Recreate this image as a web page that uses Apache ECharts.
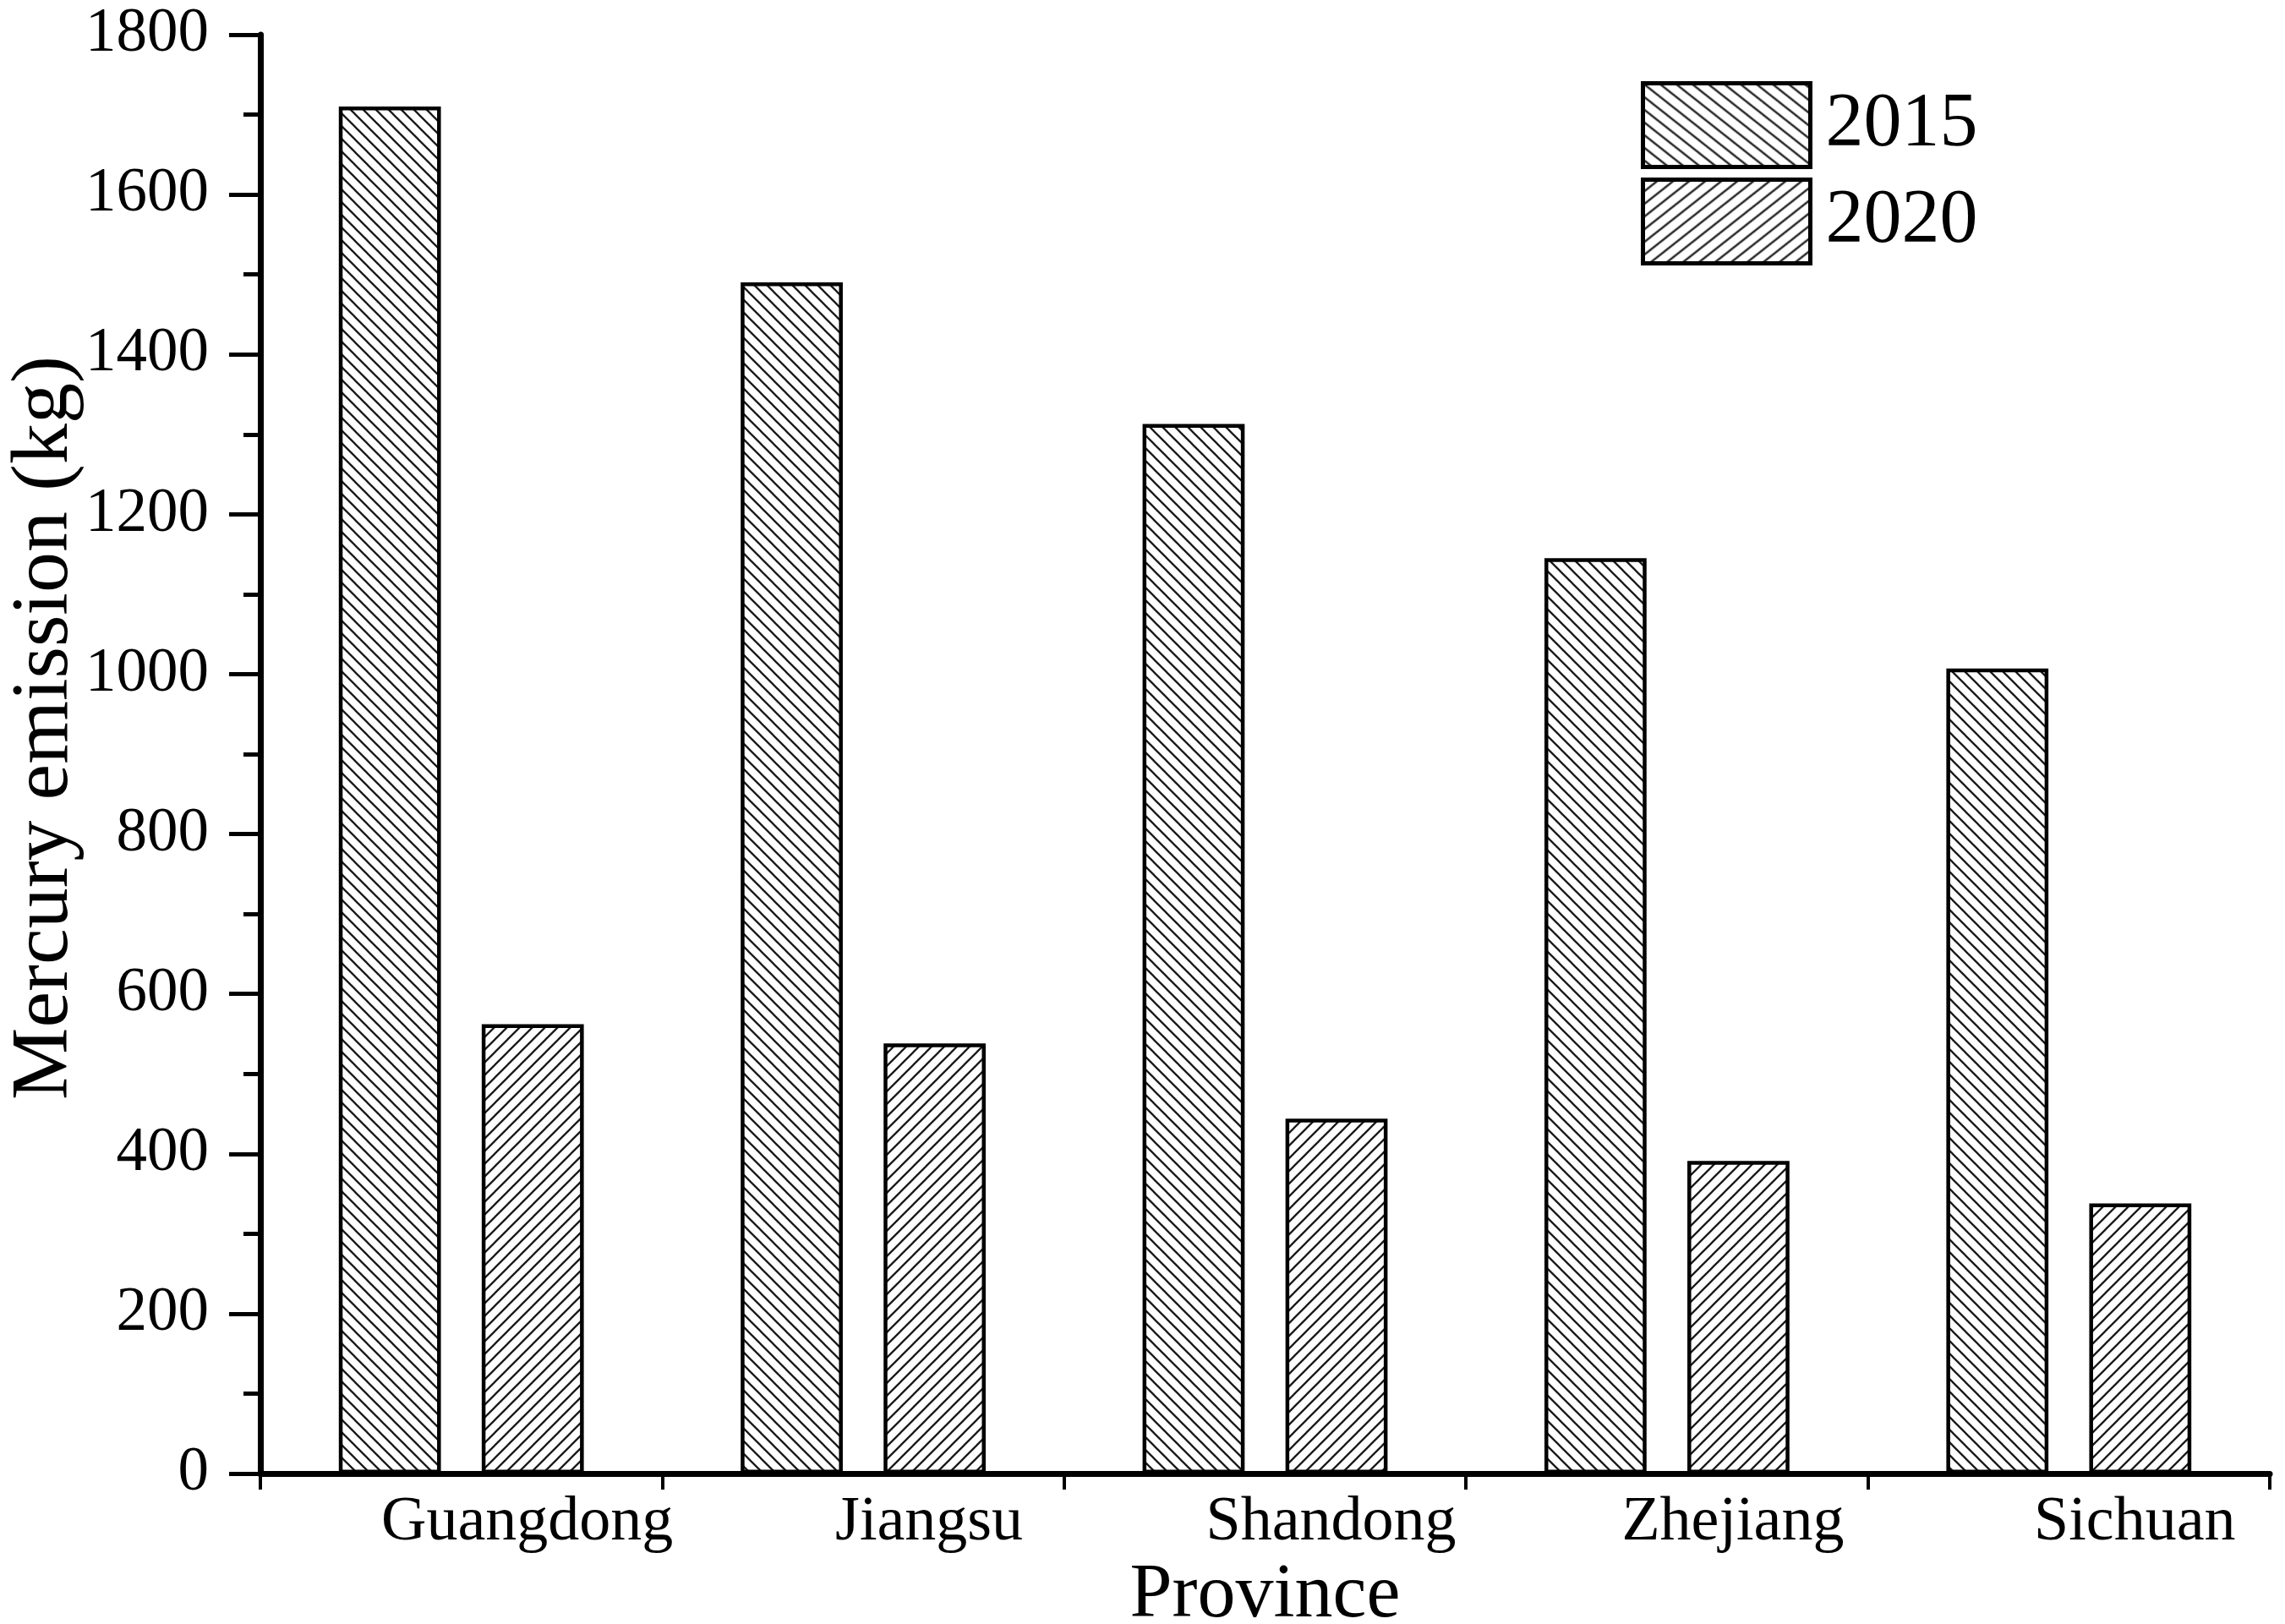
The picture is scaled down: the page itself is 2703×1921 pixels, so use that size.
<!DOCTYPE html>
<html>
<head>
<meta charset="utf-8">
<script src="https://cdn.jsdelivr.net/npm/echarts@6/dist/echarts.min.js"></script>
<style>
  html, body { margin: 0; padding: 0; background: #fff; }
  #chart { width: 2703px; height: 1921px; }
</style>
</head>
<body>
<div id="chart"></div>
<script>
const provinces = ['Guangdong', 'Jiangsu', 'Shandong', 'Zhejiang', 'Sichuan'];
const values2015 = [1710, 1490, 1313, 1145, 1007];
const values2020 = [562, 538, 444, 391, 338];
const seriesNames = ['2015', '2020'];
const yTicks = { min: 0, max: 1800, interval: 200 };

const FONT = "'Liberation Serif', 'Times New Roman', serif";

function hatch(w, h, dir, lw, color) {
  const c = document.createElement('canvas');
  c.width = w; c.height = h;
  const ctx = c.getContext('2d');
  ctx.fillStyle = '#fff';
  ctx.fillRect(0, 0, w, h);
  ctx.strokeStyle = color;
  ctx.lineWidth = lw;
  ctx.lineCap = 'square';
  for (let k = -1; k <= 1; k++) {
    ctx.beginPath();
    if (dir === 'back') { ctx.moveTo(k * w, 0); ctx.lineTo(k * w + w, h); }
    else { ctx.moveTo(k * w, h); ctx.lineTo(k * w + w, 0); }
    ctx.stroke();
  }
  return { image: c, repeat: 'repeat' };
}

const barPat2015 = hatch(15, 15, 'back', 2.3, '#1a1a1a');
const barPat2020 = hatch(15, 15, 'fwd', 2.3, '#1a1a1a');
const legPat2015 = hatch(19, 15, 'back', 2.3, '#1a1a1a');
const legPat2020 = hatch(19, 15, 'fwd', 2.3, '#1a1a1a');

const chart = echarts.init(document.getElementById('chart'));
chart.setOption({
  animation: false,
  backgroundColor: '#fff',
  grid: { left: 308, right: 18, top: 41, bottom: 178, containLabel: false, outerBoundsMode: 'none' },
  legend: {
    orient: 'vertical',
    left: 1936,
    top: 91,
    itemWidth: 198,
    itemHeight: 99,
    itemGap: 10,
    icon: 'rect',
    selectedMode: false,
    textStyle: { fontFamily: FONT, fontSize: 90, color: '#000', padding: [0, 0, 0, 13] },
    data: [
      { name: seriesNames[0], itemStyle: { color: legPat2015, borderColor: '#000', borderWidth: 5 } },
      { name: seriesNames[1], itemStyle: { color: legPat2020, borderColor: '#000', borderWidth: 5 } }
    ]
  },
  xAxis: {
    type: 'category',
    data: provinces,
    boundaryGap: true,
    name: 'Province',
    nameLocation: 'middle',
    nameGap: 100,
    nameMoveOverlap: false,
    nameTextStyle: { fontFamily: FONT, fontSize: 90, color: '#000' },
    axisLine: { show: true, lineStyle: { color: '#000', width: 7 } },
    axisTick: { show: true, alignWithLabel: false, length: 19, lineStyle: { color: '#000', width: 4 } },
    axisLabel: {
      fontFamily: FONT, fontSize: 74, color: '#000', margin: 22,
      padding: [0, 0, 0, 156], interval: 0
    },
    splitLine: { show: false }
  },
  yAxis: {
    type: 'value',
    min: yTicks.min,
    max: yTicks.max,
    interval: yTicks.interval,
    name: 'Mercury emission (kg)',
    nameLocation: 'middle',
    nameGap: 206,
    nameMoveOverlap: false,
    nameTextStyle: { fontFamily: FONT, fontSize: 96, color: '#000', padding: [0, 0, 0, 62] },
    axisLine: { show: true, lineStyle: { color: '#000', width: 7 } },
    axisTick: { show: true, inside: false, length: 37, lineStyle: { color: '#000', width: 5 } },
    minorTick: { show: true, splitNumber: 2, length: 20, lineStyle: { color: '#000', width: 5 } },
    axisLabel: {
      fontFamily: FONT, fontSize: 73, color: '#000', margin: 61,
      formatter: function (v) { return String(v); }
    },
    splitLine: { show: false },
    minorSplitLine: { show: false }
  },
  series: [
    {
      name: seriesNames[0],
      type: 'bar',
      data: values2015,
      barWidth: '25.4%',
      barGap: '40%',
      itemStyle: { color: barPat2015, borderColor: '#000', borderWidth: 4.5 }
    },
    {
      name: seriesNames[1],
      type: 'bar',
      data: values2020,
      barWidth: '25.4%',
      barGap: '40%',
      itemStyle: { color: barPat2020, borderColor: '#000', borderWidth: 4.5 }
    }
  ]
});
</script>
</body>
</html>
